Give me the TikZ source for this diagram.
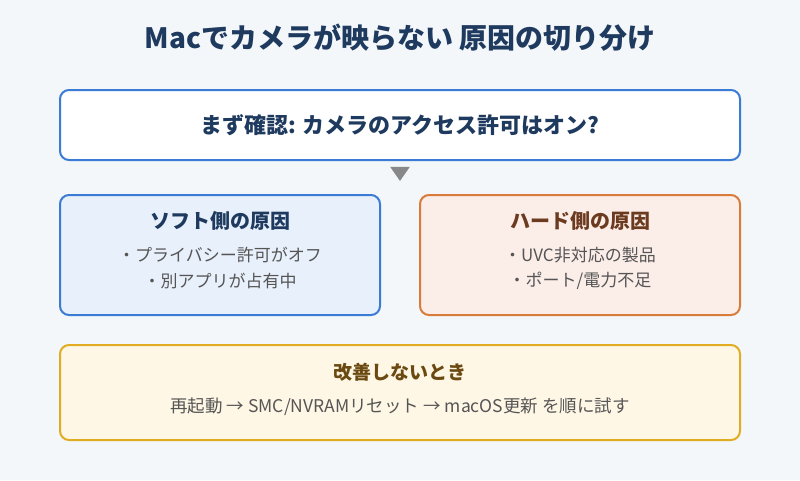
\documentclass[tikz,border=0pt]{standalone}
\usepackage{fontspec}
\setmainfont{Noto Sans CJK JP}
\usetikzlibrary{shapes.geometric}
\definecolor{bgc}{HTML}{F4F7FA}
\definecolor{navy}{HTML}{1F3A5F}
\definecolor{blueb}{HTML}{3A7BD5}
\definecolor{bluef}{HTML}{E8F0FB}
\definecolor{orab}{HTML}{D97B3A}
\definecolor{oraf}{HTML}{FBEDE8}
\definecolor{brownt}{HTML}{6B3A1F}
\definecolor{yelb}{HTML}{E0AC22}
\definecolor{yelf}{HTML}{FFF7E6}
\definecolor{yelt}{HTML}{6B4A12}
\definecolor{grayt}{HTML}{555555}
\definecolor{arrowc}{HTML}{888888}
\begin{document}
\begin{tikzpicture}[x=1pt,y=-1pt,
  card/.style={draw, line width=2pt, rounded corners=9pt},
  ttl/.style={font=\bfseries\fontsize{20}{24}\selectfont},
  itm/.style={font=\fontsize{17}{20}\selectfont, text=grayt}]
\fill[bgc] (0,0) rectangle (800,480);
\useasboundingbox (0,0) rectangle (800,480);
\node[font=\bfseries\fontsize{28}{32}\selectfont, text=navy] (title) at (400,38) {Macでカメラが映らない 原因の切り分け};
\draw[card, draw=blueb, fill=white] (60,90) rectangle (740,160);
\node[font=\bfseries\fontsize{22}{26}\selectfont, text=navy] (q) at (400,125) {まず確認: カメラのアクセス許可はオン?};
\node[fill=arrowc, isosceles triangle, shape border rotate=-90, isosceles triangle apex angle=70, inner sep=0pt, minimum height=14pt, minimum width=17pt] (tri) at (400,172) {};
\draw[card, draw=blueb, fill=bluef] (60,195) rectangle (380,315);
\node[ttl, text=navy] (st) at (220,221) {ソフト側の原因};
\node[itm] (s1) at (220,255) {・プライバシー許可がオフ};
\node[itm] (s2) at (220,281) {・別アプリが占有中};
\draw[card, draw=orab, fill=oraf] (420,195) rectangle (740,315);
\node[ttl, text=brownt] (ht) at (580,221) {ハード側の原因};
\node[itm] (h1) at (580,255) {・UVC非対応の製品};
\node[itm] (h2) at (580,281) {・ポート/電力不足};
\draw[card, draw=yelb, fill=yelf] (60,345) rectangle (740,440);
\node[font=\bfseries\fontsize{19}{22}\selectfont, text=yelt] (bt) at (400,372) {改善しないとき};
\node[itm, font=\fontsize{17.5}{20}\selectfont] (b1) at (400,407) {再起動 → SMC/NVRAMリセット → macOS更新 を順に試す};
\end{tikzpicture}
\end{document}
